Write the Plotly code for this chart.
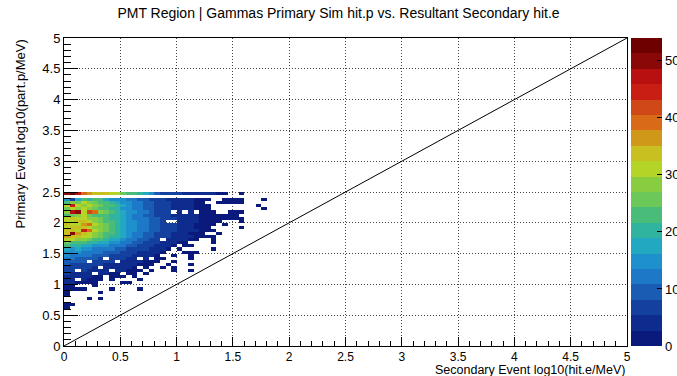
import plotly.graph_objects as go

# ---------------- data ----------------
# 2D histogram counts, bin width 0.05 in both axes.
# Rows listed from the top row (y lower edge 2.45) downwards to y lower edge 0.60.
# Each row starts at x = 0.00.
BIN = 0.05
TOP_ROW_Y = 2.45
row_2p45 = [50, 52, 48, 38, 36, 34, 35, 33, 30, 32, 26, 24, 22, 20, 18, 14, 10, 8, 7, 6, 6, 5, 5, 4, 4, 3, 3, 2, 2, 0, 0, 1]
row_2p40 = []
row_2p35 = [14, 8, 18, 22, 20, 24, 22, 18, 16, 15, 14, 12, 11, 10, 9, 8, 7, 6, 5, 5, 4, 3, 3, 2, 2, 1, 0, 0, 1, 1, 1, 1, 0, 0, 0, 1]
row_2p30 = [22, 28, 26, 30, 27, 25, 24, 22, 20, 18, 16, 14, 12, 11, 10, 9, 8, 7, 6, 5, 4, 3, 3, 2, 1, 0, 0, 1, 1, 1, 1, 1]
row_2p25 = [30, 44, 32, 28, 30, 27, 25, 23, 22, 20, 17, 15, 13, 12, 10, 9, 8, 7, 6, 5, 4, 4, 3, 2, 2, 1, 0, 0, 0, 0, 0, 0, 0, 0, 1]
row_2p20 = [26, 30, 28, 32, 29, 26, 24, 22, 21, 19, 16, 14, 13, 11, 10, 9, 8, 7, 6, 5, 4, 3, 3, 2, 2, 1, 0, 0, 0, 0, 0, 0, 0, 0, 0, 1]
row_2p15 = [28, 48, 50, 30, 42, 40, 28, 26, 24, 20, 18, 16, 14, 12, 11, 10, 8, 7, 6, 0, 4, 0, 3, 0, 2, 1, 1, 0, 0, 1, 1, 1]
row_2p10 = [24, 26, 28, 30, 26, 24, 22, 22, 20, 19, 17, 15, 13, 12, 10, 9, 8, 7, 6, 5, 4, 4, 3, 3, 2, 2, 2, 1, 1, 1, 1]
row_2p05 = [30, 34, 32, 31, 28, 27, 25, 23, 21, 19, 17, 15, 13, 12, 11, 10, 9, 8, 7, 6, 5, 4, 3, 3, 2, 2, 1, 1, 1, 1, 1, 1]
row_2p00 = [32, 30, 34, 33, 30, 28, 26, 24, 22, 20, 18, 16, 14, 12, 11, 10, 9, 8, 0, 0, 5, 4, 3, 3, 2, 2, 1, 1, 0, 0, 0, 1]
row_1p95 = [34, 32, 30, 36, 40, 30, 27, 25, 23, 21, 18, 16, 14, 13, 11, 10, 9, 8, 7, 6, 5, 4, 3, 2, 2, 1, 1, 0, 1]
row_1p90 = [30, 33, 35, 34, 31, 29, 27, 25, 22, 20, 18, 16, 14, 12, 11, 10, 9, 8, 7, 6, 5, 4, 3, 2, 2, 1, 0, 0, 0, 0, 0, 1]
row_1p85 = [33, 35, 32, 44, 40, 30, 27, 25, 22, 20, 18, 16, 14, 12, 11, 10, 9, 8, 7, 6, 5, 4, 3, 3, 2, 1, 1]
row_1p80 = [34, 50, 36, 33, 31, 29, 26, 24, 22, 20, 17, 15, 13, 12, 10, 9, 8, 7, 6, 5, 4, 3, 2, 2, 1, 0, 0, 1]
row_1p75 = [36, 34, 33, 32, 30, 27, 25, 23, 21, 19, 17, 15, 13, 11, 10, 9, 8, 7, 6, 5, 4, 3, 3, 2, 1, 1, 1]
row_1p70 = [32, 30, 28, 27, 25, 24, 22, 20, 18, 17, 15, 13, 12, 10, 9, 8, 7, 0, 5, 4, 3, 3, 2, 1, 0, 0, 1]
row_1p65 = [26, 24, 23, 22, 21, 20, 18, 17, 16, 14, 13, 12, 10, 9, 8, 7, 6, 5, 4, 3, 2, 1, 0, 0, 0, 0, 1]
row_1p60 = [22, 20, 19, 18, 17, 16, 15, 14, 13, 12, 11, 10, 9, 8, 7, 6, 5, 4, 3, 2, 0, 1, 1]
row_1p55 = [18, 16, 17, 15, 14, 13, 13, 12, 11, 10, 9, 8, 7, 6, 6, 5, 4, 3, 2, 0, 1, 0, 0, 0, 0, 0, 1]
row_1p50 = [16, 14, 15, 13, 12, 12, 11, 10, 10, 9, 8, 7, 6, 5, 5, 4, 3, 2, 0, 0, 0, 1, 1, 1]
row_1p45 = [14, 13, 12, 12, 11, 10, 10, 9, 8, 8, 7, 6, 5, 5, 4, 3, 2, 0, 0, 1, 0, 0, 1]
row_1p40 = [12, 11, 10, 10, 9, 9, 8, 0, 7, 6, 6, 5, 4, 0, 3, 0, 2, 1, 0, 0, 0, 0, 1]
row_1p35 = [10, 10, 9, 9, 0, 8, 7, 7, 6, 0, 5, 4, 4, 3, 2, 2, 1, 0, 0, 1]
row_1p30 = [9, 8, 8, 7, 7, 6, 6, 5, 5, 4, 4, 3, 3, 2, 2, 1, 0, 0, 1, 0, 0, 0, 1]
row_1p25 = [8, 7, 7, 6, 6, 5, 0, 5, 4, 4, 3, 3, 2, 0, 1, 0, 0, 1, 0, 1]
row_1p20 = [7, 6, 0, 6, 5, 5, 4, 4, 0, 3, 3, 2, 2, 1, 0, 1, 0, 0, 0, 1, 0, 0, 1]
row_1p15 = [6, 5, 5, 4, 4, 0, 3, 3, 2, 2, 0, 1, 1, 0, 1]
row_1p10 = [5, 4, 4, 3, 3, 2, 2, 0, 2, 1, 1, 0, 1]
row_1p05 = [4, 3, 0, 3, 2, 2, 1, 0, 1, 0, 0, 0, 0, 1]
row_1p00 = [3, 3, 2, 2, 2, 1, 0, 0, 0, 0, 1, 1]
row_0p95 = [2, 1, 0, 0, 0, 1]
row_0p90 = [2, 2, 1, 1, 0, 0, 0, 0, 1, 0, 0, 0, 0, 1]
row_0p85 = [1, 0, 0, 0, 0, 0, 1]
row_0p80 = [1]
row_0p75 = [0, 0, 0, 0, 1, 0, 1]
row_0p70 = []
row_0p65 = [1, 1]
row_0p60 = [1]

rows_top_down = [row_2p45, row_2p40, row_2p35, row_2p30, row_2p25, row_2p20, row_2p15,
                 row_2p10, row_2p05, row_2p00, row_1p95, row_1p90, row_1p85, row_1p80,
                 row_1p75, row_1p70, row_1p65, row_1p60, row_1p55, row_1p50, row_1p45,
                 row_1p40, row_1p35, row_1p30, row_1p25, row_1p20, row_1p15, row_1p10,
                 row_1p05, row_1p00, row_0p95, row_0p90, row_0p85, row_0p80, row_0p75,
                 row_0p70, row_0p65, row_0p60]

diagonal_line = [0.0, 5.0]
colorbar_ticks = [0, 10, 20, 30, 40, 50]
z_max = 54

palette = ["#0a1a7c", "#0e2c8e", "#1440a0", "#1a5cb4", "#1e78c8", "#1e90cc", "#22a8c0",
           "#30b4a0", "#48bc78", "#6cc858", "#88cc40", "#b4d428", "#c8c020", "#d09818",
           "#d86a18", "#d04818", "#c81e14", "#b81010", "#8a0808", "#6e0000"]

# ---------------- build ----------------
ncols = max(len(r) for r in rows_top_down)
rows_bottom_up = list(reversed(rows_top_down))
z = []
for r in rows_bottom_up:
    full = list(r) + [0] * (ncols - len(r))
    z.append([v if v > 0 else None for v in full])
y_bottom = TOP_ROW_Y - BIN * (len(rows_top_down) - 1)

n = len(palette)
colorscale = []
for i, c in enumerate(palette):
    colorscale.append([i / n, c])
    colorscale.append([(i + 1) / n, c])

FONT = "Liberation Sans, Arial, Helvetica, sans-serif"

fig = go.Figure()
fig.add_trace(go.Heatmap(
    z=z, x0=BIN / 2, dx=BIN, y0=y_bottom + BIN / 2, dy=BIN,
    zmin=0, zmax=z_max, colorscale=colorscale, zsmooth=False,
    colorbar=dict(
        x=1.0071, xanchor="left", xpad=0, ypad=0, y=0.5, yanchor="middle",
        len=1, lenmode="fraction", thickness=31, outlinewidth=0,
        tickvals=colorbar_ticks, ticks="inside", ticklen=5, tickcolor="black",
        tickfont=dict(family=FONT, size=13, color="black"),
    ),
    showscale=True,
))
fig.add_trace(go.Scatter(
    x=diagonal_line, y=diagonal_line, mode="lines",
    line=dict(color="black", width=1), showlegend=False, hoverinfo="skip",
))

axis_common = dict(
    range=[0, 5], dtick=0.5, tick0=0, ticks="inside", tickcolor="black",
    showgrid=True, griddash="1px,2px", gridcolor="#444", gridwidth=1,
    showline=True, mirror=True, linecolor="black", linewidth=1,
    zeroline=False, layer="above traces",
)
fig.update_xaxes(**axis_common, ticklen=9, ticklabelstandoff=0,
                 tickfont=dict(family=FONT, size=12, color="black"),
                 minor=dict(dtick=0.1, ticks="inside", ticklen=5, tickcolor="black", showgrid=False))
fig.update_yaxes(**axis_common, ticklen=14,
                 tickfont=dict(family=FONT, size=13, color="black"),
                 minor=dict(dtick=0.1, ticks="inside", ticklen=7, tickcolor="black", showgrid=False))

fig.update_layout(
    width=677, height=376,
    margin=dict(l=64, r=50, t=38, b=30, pad=0, autoexpand=False),
    paper_bgcolor="white", plot_bgcolor="white",
    font=dict(family=FONT, size=13, color="black"),
    title=dict(text="PMT Region | Gammas Primary Sim hit.p vs. Resultant Secondary hit.e",
               x=0.5, xanchor="center", xref="container", y=1 - 13 / 376, yref="container",
               yanchor="middle", font=dict(family=FONT, size=14, color="black")),
    showlegend=False,
    annotations=[
        dict(text="Secondary Event log10(hit.e/MeV)", xref="paper", yref="paper",
             x=1, xanchor="right", y=-23.5 / 308, yanchor="middle", showarrow=False,
             font=dict(family=FONT, size=12.5, color="black")),
        dict(text="Primary Event log10(part.p/MeV)", xref="paper", yref="paper",
             x=-44 / 563, xanchor="center", y=1, yanchor="top", textangle=-90,
             showarrow=False, font=dict(family=FONT, size=13, color="black")),
    ],
)

fig.write_html("out.html")
